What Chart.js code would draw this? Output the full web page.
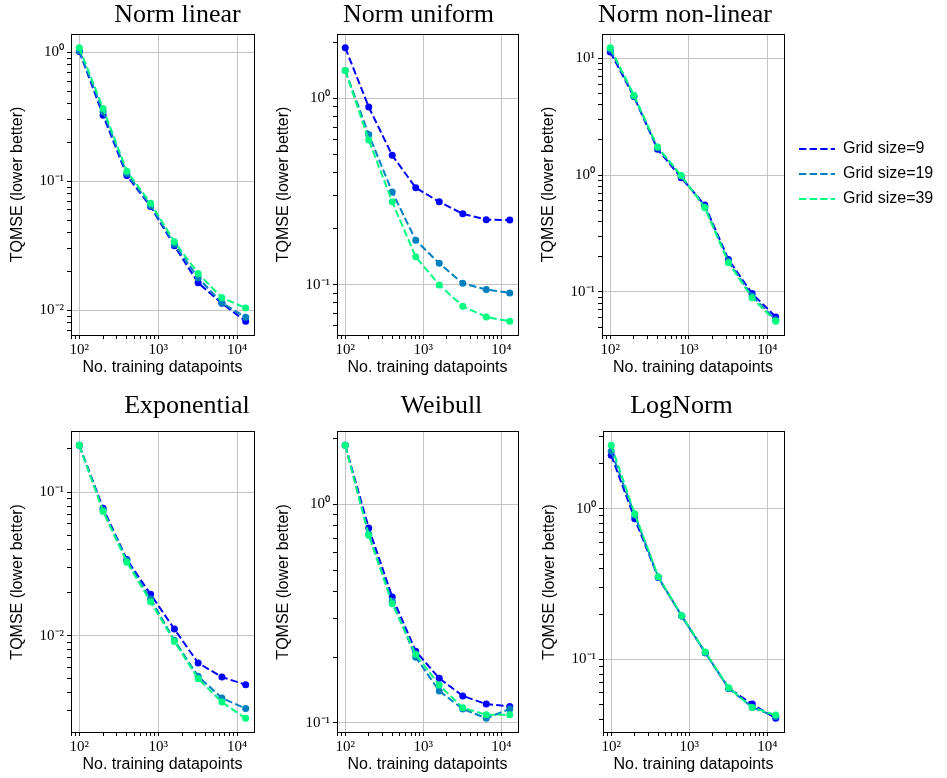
<!DOCTYPE html>
<html lang="en">
<head>
  <meta charset="UTF-8">
  <title>TQMSE vs number of training datapoints</title>
  <style>
    body {
      margin: 0;
      background: #ffffff;
    }
    #figure {
      position: relative;
      width: 947px;
      height: 778px;
      overflow: hidden;
    }
    #figure canvas {
      position: absolute;
    }
  </style>
</head>
<body>
  <div id="figure"></div>

  <script src="https://cdn.jsdelivr.net/npm/chart.js"></script>
  <script>
    const trainSizes = [100, 200, 400, 800, 1600, 3200, 6400, 12800];
    const gridLabels = ['Grid size=9', 'Grid size=19', 'Grid size=39'];
    const gridColors = ['#0000ff', '#0080bf', '#00ff80'];

    // TQMSE for grid size 9 / 19 / 39
    const normLinear9 = [1.02, 0.326, 0.111, 0.0637, 0.0316, 0.0163, 0.0113, 0.0082];
    const normLinear19 = [1.03, 0.347, 0.115, 0.065, 0.0325, 0.0178, 0.0114, 0.0088];
    const normLinear39 = [1.09, 0.368, 0.12, 0.0676, 0.034, 0.0193, 0.0125, 0.0104];

    const normUniform9 = [1.87, 0.898, 0.494, 0.331, 0.278, 0.240, 0.223, 0.222];
    const normUniform19 = [1.41, 0.64, 0.314, 0.173, 0.130, 0.1016, 0.094, 0.0902];
    const normUniform39 = [1.41, 0.597, 0.278, 0.141, 0.0996, 0.0765, 0.067, 0.0635];

    const normNonLinear9 = [11.3, 4.69, 1.66, 0.948, 0.553, 0.189, 0.0968, 0.061];
    const normNonLinear19 = [11.9, 4.75, 1.71, 0.98, 0.535, 0.183, 0.092, 0.0577];
    const normNonLinear39 = [12.3, 4.82, 1.74, 0.99, 0.525, 0.178, 0.089, 0.056];

    const exponential9 = [0.212, 0.0773, 0.0339, 0.0194, 0.0111, 0.00645, 0.00514, 0.00455];
    const exponential19 = [0.212, 0.075, 0.0334, 0.018, 0.00927, 0.0052, 0.00367, 0.0031];
    const exponential39 = [0.212, 0.0733, 0.0325, 0.0172, 0.0091, 0.005, 0.00344, 0.00265];

    const weibull9 = [1.86, 0.779, 0.377, 0.213, 0.16, 0.133, 0.122, 0.119];
    const weibull19 = [1.86, 0.73, 0.36, 0.2, 0.14, 0.116, 0.105, 0.116];
    const weibull39 = [1.86, 0.722, 0.351, 0.206, 0.149, 0.1175, 0.109, 0.109];

    const logNorm9 = [2.26, 0.859, 0.349, 0.194, 0.111, 0.0643, 0.0506, 0.0407];
    const logNorm19 = [2.4, 0.904, 0.352, 0.194, 0.111, 0.0643, 0.0481, 0.0418];
    const logNorm39 = [2.63, 0.927, 0.354, 0.195, 0.112, 0.065, 0.0481, 0.0428];

    // major ticks and their labels
    const xTicks = [100, 1000, 10000];
    const xTickLabels = ['10²', '10³', '10⁴'];
    const yTicksNormLinear = [0.01, 0.1, 1];
    const yLabelsNormLinear = ['10⁻²', '10⁻¹', '10⁰'];
    const yTicksNormUniform = [0.1, 1];
    const yLabelsNormUniform = ['10⁻¹', '10⁰'];
    const yTicksNormNonLinear = [0.1, 1, 10];
    const yLabelsNormNonLinear = ['10⁻¹', '10⁰', '10¹'];
    const yTicksExponential = [0.01, 0.1];
    const yLabelsExponential = ['10⁻²', '10⁻¹'];
    const yTicksWeibull = [0.1, 1];
    const yLabelsWeibull = ['10⁻¹', '10⁰'];
    const yTicksLogNorm = [0.1, 1];
    const yLabelsLogNorm = ['10⁻¹', '10⁰'];

    // canvas box [left, top, width, height] and axis sizes for each subplot
    const panels = [
      { title: 'Norm linear', series: [normLinear9, normLinear19, normLinear39],
        yTicks: yTicksNormLinear, yLabels: yLabelsNormLinear,
        box: [0, 0, 355, 380], yAxisWidth: 71, rightGap: 101, titleGap: 2.8 },
      { title: 'Norm uniform', series: [normUniform9, normUniform19, normUniform39],
        yTicks: yTicksNormUniform, yLabels: yLabelsNormUniform,
        box: [272, 0, 293, 380], yAxisWidth: 65, rightGap: 47, titleGap: 2.8 },
      { title: 'Norm non-linear', series: [normNonLinear9, normNonLinear19, normNonLinear39],
        yTicks: yTicksNormNonLinear, yLabels: yLabelsNormNonLinear,
        box: [537, 0, 296, 380], yAxisWidth: 65, rightGap: 49, titleGap: 2.8 },
      { title: 'Exponential', series: [exponential9, exponential19, exponential39],
        yTicks: yTicksExponential, yLabels: yLabelsExponential,
        box: [0, 391, 374, 386], yAxisWidth: 71, rightGap: 120, titleGap: 9.5 },
      { title: 'Weibull', series: [weibull9, weibull19, weibull39],
        yTicks: yTicksWeibull, yLabels: yLabelsWeibull,
        box: [272, 391, 339, 386], yAxisWidth: 65, rightGap: 93, titleGap: 9.5 },
      { title: 'LogNorm', series: [logNorm9, logNorm19, logNorm39],
        yTicks: yTicksLogNorm, yLabels: yLabelsLogNorm,
        box: [537, 391, 289, 386], yAxisWidth: 66, rightGap: 42, titleGap: 9.5 }
    ];
    const legendBox = [790, 132, 157, 200];

    Chart.defaults.font.family = "'Liberation Sans', sans-serif";
    Chart.defaults.color = '#000';

    const tickFont = { family: "'Liberation Serif', serif", size: 15 };
    const labelFont = { size: 16 };

    // log limits with a 5% margin, like matplotlib
    function paddedRange(values) {
      const lo = Math.log10(Math.min(...values));
      const hi = Math.log10(Math.max(...values));
      const pad = (hi - lo) * 0.05;
      return [Math.pow(10, lo - pad), Math.pow(10, hi + pad)];
    }

    function logTicks(min, max, majors, labels) {
      const ticks = [];
      for (let e = Math.floor(Math.log10(min)); e <= Math.ceil(Math.log10(max)); e++) {
        for (let m = 1; m < 10; m++) {
          const v = m * Math.pow(10, e);
          if (v < min || v > max) continue;
          const k = majors.findIndex(t => Math.abs(t - v) / t < 1e-9);
          ticks.push({ value: v, major: k >= 0, text: k >= 0 ? labels[k] : '' });
        }
      }
      return ticks;
    }

    function logAxis(position, range, majors, labels, size, title, titlePadding) {
      const horizontal = position === 'bottom';
      return {
        type: 'logarithmic',
        position: position,
        min: range[0],
        max: range[1],
        bounds: 'data',
        afterBuildTicks: scale => { scale.ticks = logTicks(range[0], range[1], majors, labels); },
        afterFit: scale => {
          if (horizontal) scale.height = size;
          else scale.width = size;
        },
        ticks: {
          autoSkip: false,
          maxRotation: 0,
          minRotation: 0,
          padding: horizontal ? 2 : 3,
          font: tickFont,
          callback: (value, index, ticks) => ticks[index].text
        },
        grid: {
          color: c => (c.tick && c.tick.major ? '#c4c4c4' : 'rgba(0,0,0,0)'),
          lineWidth: 1,
          tickColor: '#000',
          tickLength: 4
        },
        border: { color: '#000', width: 1 },
        title: { display: true, text: title, font: labelFont, padding: titlePadding }
      };
    }

    // top and right spines
    function frameAxis(axis, position, size) {
      return {
        axis: axis,
        position: position,
        type: 'linear',
        ticks: { display: false },
        grid: { display: false },
        border: { color: '#000', width: 1 },
        afterFit: scale => {
          if (axis === 'x') scale.height = size;
          else scale.width = size;
        }
      };
    }

    function seriesStyle(i) {
      return {
        label: gridLabels[i],
        borderColor: gridColors[i],
        backgroundColor: gridColors[i],
        borderWidth: 2,
        borderDash: [7.4, 3.2],
        pointRadius: 3.5,
        pointBorderWidth: 0,
        tension: 0,
        order: 2 - i
      };
    }

    const figure = document.getElementById('figure');

    function addCanvas(box) {
      const [left, top, width, height] = box;
      const canvas = document.createElement('canvas');
      canvas.width = width;
      canvas.height = height;
      canvas.style.left = left + 'px';
      canvas.style.top = top + 'px';
      figure.appendChild(canvas);
      return canvas;
    }

    const xRange = paddedRange(trainSizes);

    panels.forEach(p => {
      const yRange = paddedRange(p.series.flat());

      new Chart(addCanvas(p.box), {
        type: 'line',
        data: {
          datasets: p.series.map((values, i) => Object.assign(seriesStyle(i), {
            data: values.map((v, j) => ({ x: trainSizes[j], y: v }))
          }))
        },
        options: {
          responsive: false,
          animation: false,
          devicePixelRatio: 1,
          events: [],
          scales: {
            x: logAxis('bottom', xRange, xTicks, xTickLabels, 45,
              'No. training datapoints', { top: 0, bottom: 2.6 }),
            y: logAxis('left', yRange, p.yTicks, p.yLabels, p.yAxisWidth,
              'TQMSE (lower better)', { top: p.yAxisWidth - 62.8, bottom: 0 }),
            xTop: frameAxis('x', 'top', 0),
            yRight: frameAxis('y', 'right', p.rightGap)
          },
          plugins: {
            tooltip: { enabled: false },
            legend: { display: false },
            title: {
              display: true,
              text: p.title,
              color: '#000',
              font: { family: "'Liberation Serif', serif", size: 26, weight: 'normal' },
              padding: { top: 0, bottom: p.titleGap }
            }
          }
        }
      });
    });

    // shared legend, to the right of "Norm non-linear"
    new Chart(addCanvas(legendBox), {
      type: 'line',
      data: {
        datasets: gridLabels.map((label, i) => Object.assign(seriesStyle(i), { data: [] }))
      },
      options: {
        responsive: false,
        animation: false,
        devicePixelRatio: 1,
        events: [],
        scales: {
          x: { display: false },
          y: { display: false }
        },
        plugins: {
          tooltip: { enabled: false },
          legend: {
            display: true,
            position: 'top',
            align: 'start',
            labels: {
              usePointStyle: true,
              pointStyle: 'line',
              pointStyleWidth: 36,
              padding: 9,
              font: labelFont,
              sort: (a, b) => a.datasetIndex - b.datasetIndex,
              generateLabels: chart => Chart.defaults.plugins.legend.labels.generateLabels(chart).map(item => {
                const ds = chart.data.datasets[item.datasetIndex];
                return Object.assign(item, {
                  pointStyle: 'line',
                  lineDash: ds.borderDash,
                  lineWidth: ds.borderWidth,
                  strokeStyle: ds.borderColor
                });
              })
            }
          }
        }
      }
    });
  </script>
</body>
</html>
